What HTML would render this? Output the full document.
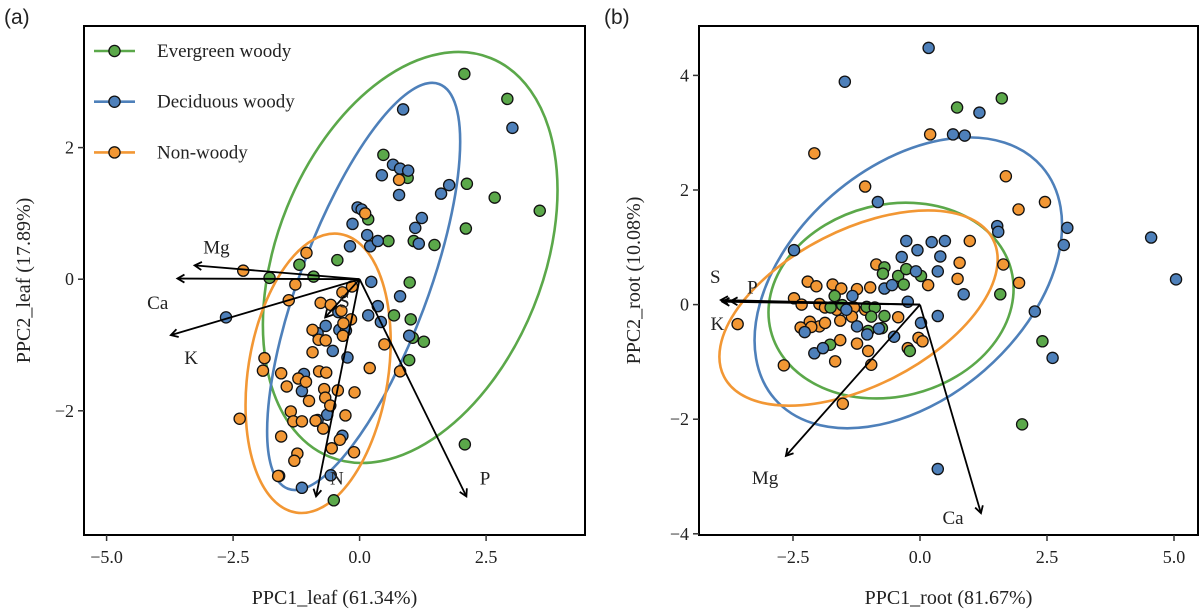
<!DOCTYPE html>
<html><head><meta charset="utf-8"><style>
html,body{margin:0;padding:0;background:#fff;}
svg text{font-family:"Liberation Serif",serif;fill:#222;}
</style></head><body>
<svg id="fig" width="1200" height="610" viewBox="0 0 1200 610" xmlns="http://www.w3.org/2000/svg">
<defs>
<marker id="ah" markerWidth="10" markerHeight="10" refX="8" refY="5" orient="auto" markerUnits="userSpaceOnUse">
<path d="M1,1 L8,5 L1,9" fill="none" stroke="#000" stroke-width="1.8"/>
</marker>
</defs>
<text x="4" y="24" style="font-family:'Liberation Sans',sans-serif;font-size:21px">(a)</text>
<text x="604" y="24" style="font-family:'Liberation Sans',sans-serif;font-size:21px">(b)</text>
<g id="pa"></g>
<g id="pb"></g>
</svg>
<script>
const groups = ["Evergreen woody","Deciduous woody","Non-woody"];
const colors = ["#5ba84a","#4e80ba","#f29734"];

// Panel A (leaf) data
const aGreenX=[2.07,2.92,2.12,2.67,3.56,2.10,0.47,0.95,0.17,0.57,1.07,1.48,-0.44,-1.19,-1.78,-0.91,0.99,1.01,0.68,1.05,1.27,0.98,2.08,-0.51];
const aGreenY=[3.12,2.74,1.45,1.24,1.04,0.77,1.89,1.54,0.91,0.58,0.58,0.52,0.29,0.22,0.02,0.04,-0.05,-0.61,-0.55,-0.89,-0.95,-1.23,-2.51,-3.36];
const aBlueX=[0.86,3.02,0.66,0.80,0.96,0.44,0.78,1.61,1.77,-0.04,0.04,-0.14,1.23,1.10,1.17,0.15,0.21,0.36,-0.19,0.23,0.80,0.36,0.42,0.17,-0.42,-0.40,-0.27,-0.67,-0.83,-0.53,-0.24,0.98,-2.64,-1.10,-1.14,-0.64,-0.83,-0.34,-1.14,-1.59,-0.57];
const aBlueY=[2.58,2.30,1.74,1.68,1.65,1.58,1.28,1.30,1.43,1.09,1.06,0.84,0.93,0.78,0.54,0.67,0.50,0.58,0.50,-0.04,-0.26,-0.41,-0.65,-0.55,-0.50,-0.77,-0.78,-0.71,-0.82,-1.09,-1.19,-0.86,-0.58,-1.44,-1.70,-2.06,-2.14,-2.38,-3.17,-2.99,-2.98];
const aOrangeX=[-2.30,-1.05,-1.27,-1.40,-0.77,-0.57,-0.36,-0.17,-0.32,-0.93,-0.81,-0.67,-0.33,-0.34,-0.15,0.11,0.78,0.49,0.20,0.80,-1.88,-1.91,-1.55,-1.44,-1.21,-1.06,-0.80,-0.66,-0.93,-1.00,-0.70,-0.68,-0.43,-0.10,-0.58,-1.36,-1.31,-1.14,-0.87,-0.72,-0.28,-2.37,-1.55,-0.11,-0.55,-0.39,-1.23,-1.29,-1.61];
const aOrangeY=[0.13,0.40,-0.08,-0.32,-0.36,-0.39,-0.48,-0.61,-0.67,-0.77,-0.92,-0.93,-0.86,-0.20,-0.11,1.00,1.51,-0.99,-1.35,-1.40,-1.20,-1.39,-1.43,-1.63,-1.51,-1.56,-1.40,-1.42,-1.11,-1.85,-1.67,-1.80,-1.69,-1.72,-1.92,-2.01,-2.16,-2.16,-2.15,-2.27,-2.07,-2.12,-2.39,-2.63,-2.57,-2.44,-2.65,-2.76,-2.99];
const aLoadNames=["Mg","Ca","K","S","N","P"];
const aLoadX=[-3.26,-3.60,-3.73,-0.68,-0.86,2.11];
const aLoadY=[0.21,0.01,-0.85,-0.58,-3.30,-3.30];
const aLabX=[-2.83,-3.99,-3.33,-0.30,-0.45,2.48];
const aLabY=[0.50,-0.35,-1.18,-0.32,-3.01,-3.01];
const aXTicks=[-5.0,-2.5,0.0,2.5];
const aYTicks=[-2,0,2];

// Panel B (root) data
const bGreenX=[0.73,1.61,-0.70,-0.73,-0.43,-0.27,0.02,-1.68,-1.76,-1.53,-1.05,-0.89,-0.96,-0.70,-1.02,-0.75,-1.77,-0.20,1.58,2.41,2.01,-0.32];
const bGreenY=[3.44,3.60,0.65,0.54,0.50,0.62,0.50,0.15,-0.05,-0.01,-0.04,-0.05,-0.21,-0.20,-0.46,-0.41,-0.70,-0.81,0.18,-0.64,-2.09,0.35];
const bBlueX=[0.17,-1.48,1.17,0.65,0.88,-0.83,1.52,1.54,2.90,2.83,4.55,5.04,-0.27,-0.05,0.23,0.49,-0.36,0.40,0.35,-0.08,0.86,-0.70,-0.55,-1.33,-0.24,0.35,0.02,-1.24,-1.04,-0.81,-0.51,-2.27,-2.08,-1.91,-1.45,2.26,2.61,0.35,-2.48];
const bBlueY=[4.48,3.89,3.35,2.97,2.95,1.79,1.37,1.27,1.34,1.04,1.17,0.44,1.11,0.95,1.09,1.11,0.83,0.84,0.58,0.58,0.18,0.28,0.34,0.15,0.05,-0.20,-0.32,-0.38,-0.52,-0.42,-0.56,-0.48,-0.85,-0.76,-0.09,-0.12,-0.93,-2.87,0.95];
const bOrangeX=[-2.08,0.20,-1.08,1.69,2.46,1.94,0.98,-0.86,0.78,0.74,1.64,1.95,0.16,-2.21,-2.04,-1.72,-1.55,-1.24,-0.98,-2.48,-2.33,-1.98,-1.87,-1.64,-1.30,-1.08,-2.17,-1.98,-1.87,-1.57,-1.34,-0.43,-2.35,-2.14,-1.57,-1.24,-1.02,-1.67,-0.96,-2.68,-3.59,-1.52,-0.24,-0.03,0.05];
const bOrangeY=[2.64,2.97,2.06,2.24,1.79,1.66,1.11,0.70,0.73,0.45,0.70,0.38,0.34,0.40,0.32,0.35,0.28,0.27,0.30,0.11,0.00,0.01,-0.05,-0.09,-0.05,-0.09,-0.30,-0.38,-0.32,-0.28,-0.21,-0.22,-0.40,-0.39,-0.62,-0.68,-0.81,-0.99,-1.05,-1.06,-0.34,-1.73,-0.76,-0.58,-0.64];
const bLoadNames=["S","P","K","Mg","Ca"];
const bLoadX=[-3.92,-3.73,-3.89,-2.64,1.20];
const bLoadY=[0.08,0.06,0.05,-2.64,-3.64];
const bLabX=[-4.03,-3.30,-3.99,-3.05,0.65];
const bLabY=[0.50,0.32,-0.32,-3.01,-3.71];
const bXTicks=[-2.5,0.0,2.5,5.0];
const bYTicks=[-4,-2,0,2,4];

const NS="http://www.w3.org/2000/svg";
function mk(parent,tag,attrs){const e=document.createElementNS(NS,tag);for(const k in attrs)e.setAttribute(k,attrs[k]);parent.appendChild(e);return e;}

function panel(g,cfg){
  const sx=v=>cfg.x0+cfg.kx*v, sy=v=>cfg.y0-cfg.ky*v;
  cfg.ells.forEach((el,i)=>{
    const e=mk(g,'ellipse',{cx:sx(el[0]),cy:sy(el[1]),rx:el[2],ry:el[3],transform:`rotate(${el[4]} ${sx(el[0])} ${sy(el[1])})`,fill:'none',stroke:colors[el[5]],'stroke-width':2.6});
    
    
  });
  cfg.series.forEach((s,ci)=>{
    s[0].forEach((xv,i)=>{
      const c=mk(g,'circle',{cx:sx(xv),cy:sy(s[1][i]),r:5.6,fill:colors[s[2]],stroke:'#111','stroke-width':1.3});
      
      
    });
  });
  cfg.ln.forEach((n,i)=>{
    const l=mk(g,'line',{x1:sx(0),y1:sy(0),x2:sx(cfg.lx[i]),y2:sy(cfg.ly[i]),stroke:'#000','stroke-width':1.8,'marker-end':'url(#ah)'});
    
    
    const t=mk(g,'text',{x:sx(cfg.tx[i]),y:sy(cfg.ty[i])+7,'text-anchor':'middle','font-size':19});
    t.textContent=n;
    
    
  });
  const f=mk(g,'rect',{x:cfg.L,y:cfg.T,width:cfg.R-cfg.L,height:cfg.B-cfg.T,fill:'none',stroke:'#000','stroke-width':2});
  
  
  cfg.xt.forEach(v=>{
    mk(g,'line',{x1:sx(v),x2:sx(v),y1:cfg.B,y2:cfg.B+6,stroke:'#333','stroke-width':1.5});
    const t=mk(g,'text',{x:sx(v),y:cfg.B+28,'text-anchor':'middle','font-size':18,fill:'#444'});
    t.textContent=(v<0?'\u2212':'')+Math.abs(v).toFixed(1);
    
    
  });
  cfg.yt.forEach(v=>{
    mk(g,'line',{x1:cfg.L-6,x2:cfg.L,y1:sy(v),y2:sy(v),stroke:'#333','stroke-width':1.5});
    const t=mk(g,'text',{x:cfg.L-10,y:sy(v)+6,'text-anchor':'end','font-size':18,fill:'#444'});
    t.textContent=(v<0?'\u2212':'')+Math.abs(v);
    
    
  });
  const xt=mk(g,'text',{x:(cfg.L+cfg.R)/2,y:604,'text-anchor':'middle','font-size':20,fill:'#444'});
  xt.textContent=cfg.xTitle;
  
  
  const yc=(cfg.T+cfg.B)/2;
  const yt=mk(g,'text',{x:cfg.ytx,y:yc,'text-anchor':'middle','font-size':20,fill:'#444',transform:`rotate(-90 ${cfg.ytx} ${yc})`});
  yt.textContent=cfg.yTitle;
  
  
}

panel(document.getElementById('pa'),{
  L:84,T:26,R:585,B:535,x0:359.6,kx:50.6,y0:279.2,ky:65.8,
  series:[[aGreenX,aGreenY,0],[aBlueX,aBlueY,1],[aOrangeX,aOrangeY,2]],
  ells:[[1.0,0.33,215,133,-68,0],[0.08,-0.11,216,64,-69.5,1],[-0.82,-1.43,141,70,-81,2]],
  ln:aLoadNames,lx:aLoadX,ly:aLoadY,tx:aLabX,ty:aLabY,xt:aXTicks,yt:aYTicks,
  xTitle:'PPC1_leaf (61.34%)',yTitle:'PPC2_leaf (17.89%)',ytx:30
});
panel(document.getElementById('pb'),{
  L:699,T:26,R:1198,B:535,x0:920,kx:50.8,y0:304.6,ky:57.3,
  series:[[bOrangeX,bOrangeY,2],[bGreenX,bGreenY,0],[bBlueX,bBlueY,1]],
  ells:[[-0.23,0.38,177,116,-41,1],[-0.57,0.07,124,96,-14,0],[-1.21,-0.06,151,78,-27,2]],
  ln:bLoadNames,lx:bLoadX,ly:bLoadY,tx:bLabX,ty:bLabY,xt:bXTicks,yt:bYTicks,
  xTitle:'PPC1_root (81.67%)',yTitle:'PPC2_root (10.08%)',ytx:640
});

const pa=document.getElementById('pa');
groups.forEach((gname,i)=>{
  const y=51+i*50.7;
  const lg=mk(pa,'g',{});
  
  
  mk(lg,'line',{x1:94,x2:135,y1:y,y2:y,stroke:colors[i],'stroke-width':2.6});
  mk(lg,'circle',{cx:114.5,cy:y,r:5.6,fill:colors[i],stroke:'#111','stroke-width':1.3});
  const t=mk(lg,'text',{x:157,y:y+6,'font-size':19});
  t.textContent=gname;
});
</script>
</body></html>
